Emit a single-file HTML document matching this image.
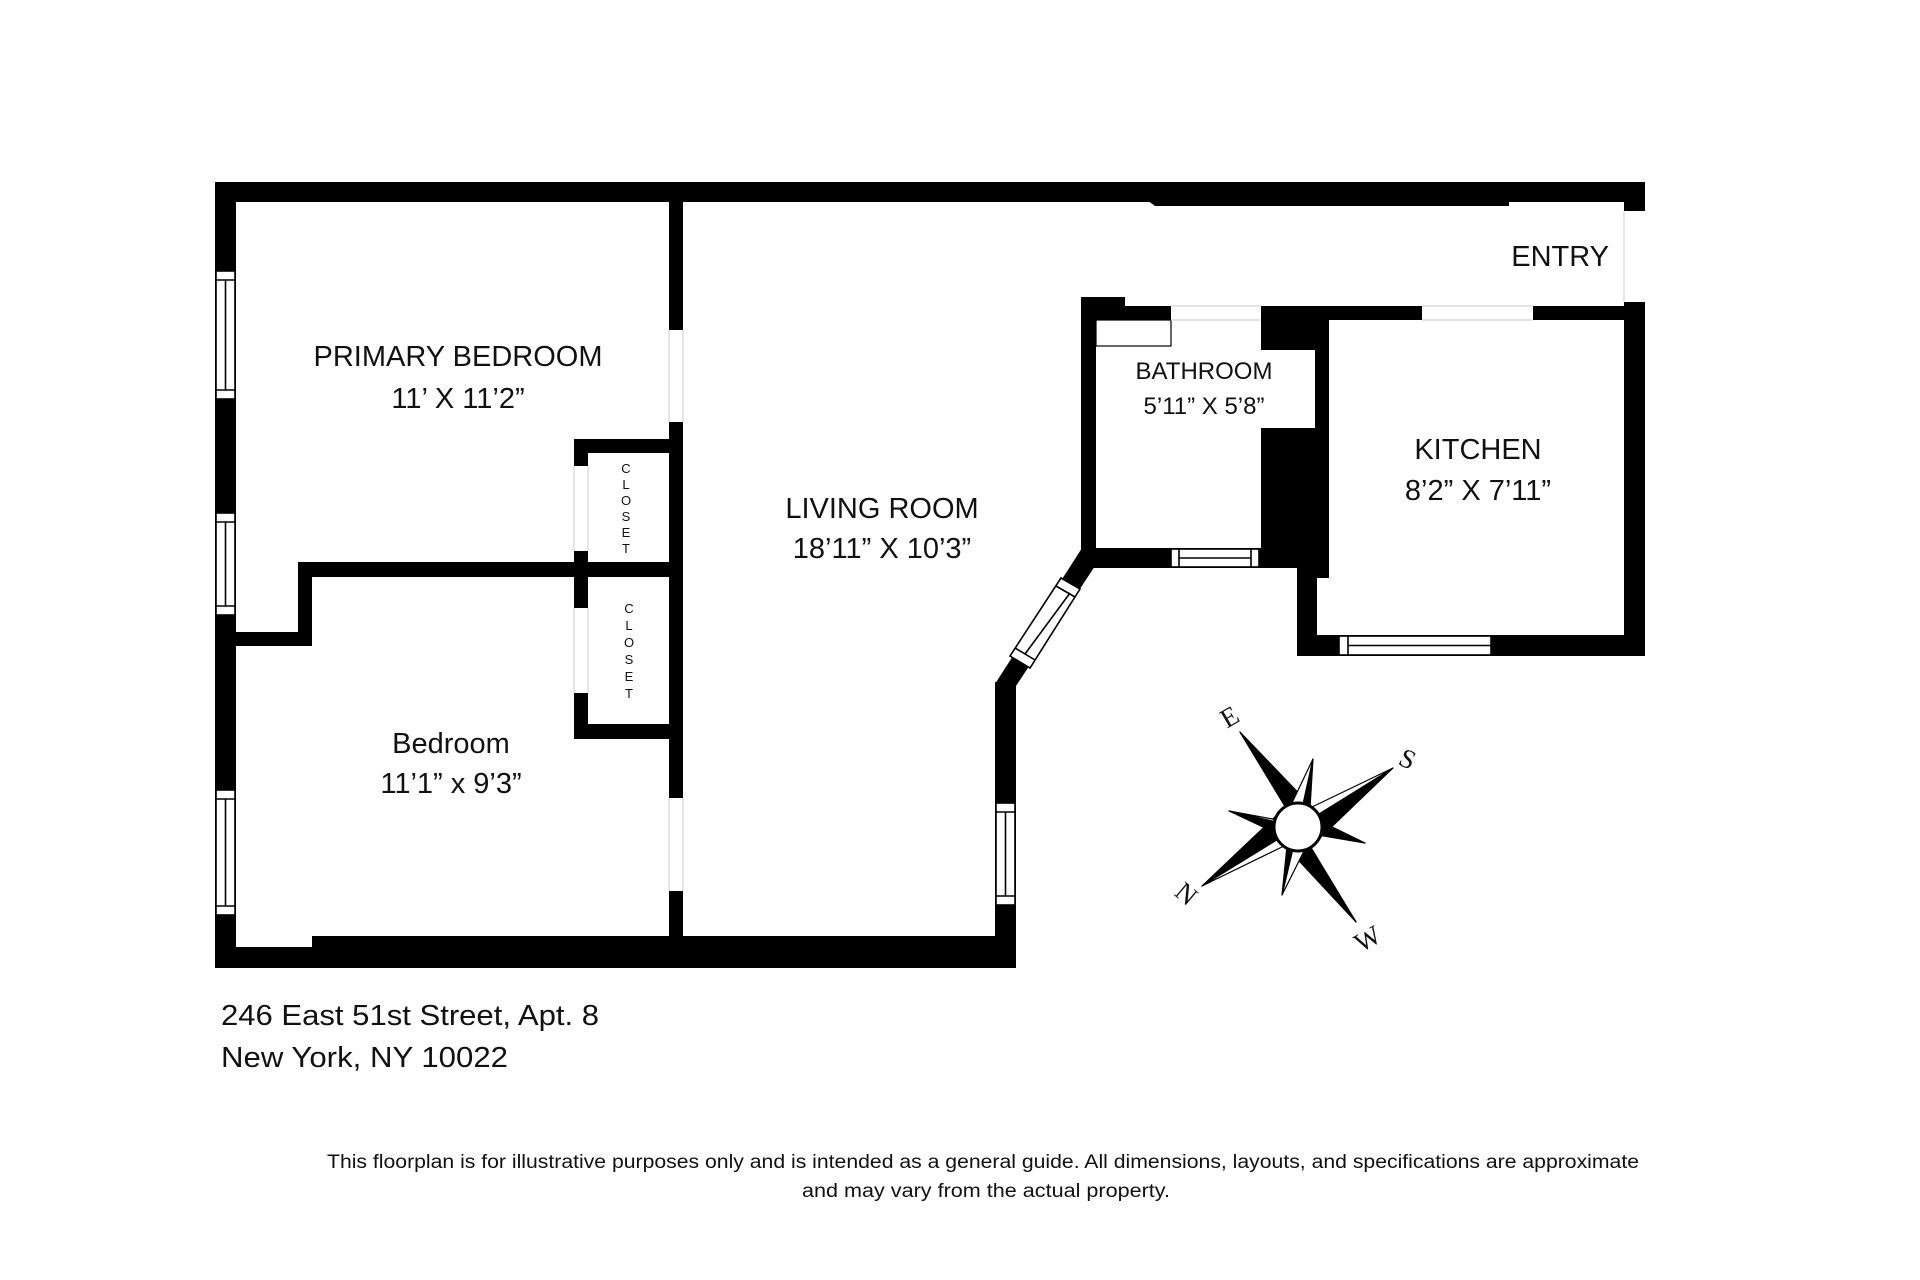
<!DOCTYPE html>
<html><head><meta charset="utf-8"><style>
html,body{margin:0;padding:0;background:#fff;width:1920px;height:1280px;overflow:hidden}
svg{display:block}
text{font-family:"Liberation Sans",sans-serif;fill:#111}
</style></head><body>
<svg width="1920" height="1280" viewBox="0 0 1920 1280" xmlns="http://www.w3.org/2000/svg">
<g fill="#000">
<rect x="215" y="182" width="1430" height="20"/>
<polygon points="1147,200 1155,206 1509,206 1509,200"/>
<rect x="1624" y="182" width="21" height="29"/>
<rect x="215" y="182" width="21" height="786"/>
<rect x="215" y="947" width="97" height="21"/>
<rect x="312" y="936" width="704" height="32"/>
<rect x="669" y="202" width="14" height="128"/>
<rect x="669" y="422" width="14" height="376"/>
<rect x="669" y="891" width="14" height="50"/>
<rect x="574" y="439" width="109" height="14"/>
<rect x="574" y="439" width="14" height="27"/>
<rect x="574" y="551" width="14" height="57"/>
<rect x="298" y="562" width="385" height="15"/>
<rect x="298" y="562" width="14" height="84"/>
<rect x="236" y="632" width="76" height="14"/>
<rect x="574" y="693" width="14" height="46"/>
<rect x="574" y="724" width="109" height="15"/>
<rect x="995" y="682" width="21" height="286"/>
<polygon points="1082,548 1095,566 1016,686 995,684"/>
<rect x="1081" y="297" width="15" height="260"/>
<rect x="1081" y="297" width="44" height="12"/>
<rect x="1081" y="306" width="90" height="14"/>
<rect x="1261" y="306" width="161" height="14"/>
<rect x="1533" y="306" width="112" height="14"/>
<rect x="1261" y="306" width="68" height="44"/>
<rect x="1315" y="350" width="14" height="78"/>
<rect x="1261" y="428" width="68" height="140"/>
<rect x="1081" y="548" width="216" height="20"/>
<rect x="1297" y="548" width="32" height="30"/>
<rect x="1297" y="548" width="20" height="108"/>
<rect x="1624" y="302" width="21" height="354"/>
<rect x="1297" y="635" width="348" height="21"/>
</g>
<g fill="#fff" stroke="#000" stroke-width="1.6">
<rect x="216" y="271" width="19" height="128"/><line x1="216" y1="280" x2="235" y2="280"/><line x1="216" y1="390" x2="235" y2="390"/><line x1="225.5" y1="280" x2="225.5" y2="390"/>
<rect x="216" y="513" width="19" height="102"/><line x1="216" y1="522" x2="235" y2="522"/><line x1="216" y1="606" x2="235" y2="606"/><line x1="225.5" y1="522" x2="225.5" y2="606"/>
<rect x="216" y="790" width="19" height="125"/><line x1="216" y1="799" x2="235" y2="799"/><line x1="216" y1="906" x2="235" y2="906"/><line x1="225.5" y1="799" x2="225.5" y2="906"/>
<rect x="996" y="803" width="19" height="102"/><line x1="996" y1="812" x2="1015" y2="812"/><line x1="996" y1="896" x2="1015" y2="896"/><line x1="1005.5" y1="812" x2="1005.5" y2="896"/>
<polygon points="1061,578 1080,589 1030,668 1010,656"/>
<line x1="1056" y1="586" x2="1075" y2="597"/><line x1="1015" y1="648" x2="1035" y2="660"/>
<line x1="1070" y1="593" x2="1025" y2="654"/>
<rect x="1171" y="549" width="88" height="18"/><line x1="1179" y1="549" x2="1179" y2="567"/><line x1="1251" y1="549" x2="1251" y2="567"/><line x1="1179" y1="558" x2="1251" y2="558"/>
<rect x="1339" y="636" width="152" height="19"/><line x1="1348" y1="636" x2="1348" y2="655"/><line x1="1348" y1="645.5" x2="1491" y2="645.5"/>
<rect x="1096" y="320" width="75" height="26" stroke-width="1.2"/>
</g>
<g stroke="#d4d4d4" stroke-width="1.2" fill="none">
<line x1="1171" y1="306" x2="1261" y2="306"/><line x1="1171" y1="320" x2="1261" y2="320"/>
<line x1="1422" y1="306" x2="1533" y2="306"/><line x1="1422" y1="320" x2="1533" y2="320"/>
<line x1="1624" y1="211" x2="1624" y2="302"/>
<line x1="669" y1="330" x2="669" y2="422"/><line x1="683" y1="330" x2="683" y2="422"/>
<line x1="669" y1="798" x2="669" y2="891"/><line x1="683" y1="798" x2="683" y2="891"/>
<line x1="574" y1="466" x2="574" y2="551"/><line x1="588" y1="466" x2="588" y2="551"/>
<line x1="574" y1="608" x2="574" y2="693"/><line x1="588" y1="608" x2="588" y2="693"/>
</g>
<g font-size="29" text-anchor="middle">
<text x="458" y="366">PRIMARY BEDROOM</text>
<text x="458" y="408">11’ X 11’2”</text>
<text x="451" y="753">Bedroom</text>
<text x="451" y="793">11’1” x 9’3”</text>
<text x="882" y="518">LIVING ROOM</text>
<text x="882" y="558">18’11” X 10’3”</text>
<text x="1478" y="459">KITCHEN</text>
<text x="1478" y="500">8’2” X 7’11”</text>
<text x="1609" y="266" text-anchor="end">ENTRY</text>
</g>
<g font-size="24" text-anchor="middle">
<text x="1204" y="379">BATHROOM</text>
<text x="1204" y="414">5’11” X 5’8”</text>
</g>
<g font-size="13" text-anchor="middle">
<text x="626" y="473">C</text><text x="626" y="489">L</text><text x="626" y="505">O</text><text x="626" y="521">S</text><text x="626" y="537">E</text><text x="626" y="553">T</text>
<text x="629" y="613">C</text><text x="629" y="630">L</text><text x="629" y="647">O</text><text x="629" y="664">S</text><text x="629" y="681">E</text><text x="629" y="698">T</text>
</g>
<g stroke="#000" stroke-width="1.2" stroke-linejoin="round">
<polygon points="1240,732 1298,827 1286,808" fill="#fff"/><polygon points="1240,732 1298,827 1310,805" fill="#000"/>
<polygon points="1393,768 1298,827 1318,840" fill="#000"/><polygon points="1393,768 1298,827 1312,807" fill="#fff"/>
<polygon points="1202,886 1298,827 1278,814" fill="#000"/><polygon points="1202,886 1298,827 1284,846" fill="#fff"/>
<polygon points="1356,922 1298,827 1288,849" fill="#000"/><polygon points="1356,922 1298,827 1310,846" fill="#fff"/>
<polygon points="1313,759 1298,827 1290,807" fill="#fff"/><polygon points="1313,759 1298,827 1310,808" fill="#000"/>
<polygon points="1365,843 1298,827 1318,820" fill="#000"/><polygon points="1365,843 1298,827 1318,835" fill="#000"/>
<polygon points="1282,895 1298,827 1306,847" fill="#fff"/><polygon points="1282,895 1298,827 1287,846" fill="#000"/>
<polygon points="1229,811 1298,827 1278,834" fill="#000"/><polygon points="1229,811 1298,827 1278,820" fill="#fff"/>
</g>
<circle cx="1298" cy="827" r="24" fill="#fff" stroke="#000" stroke-width="3"/>
<g font-size="27" text-anchor="middle">
<text x="1229" y="726" transform="rotate(-30 1229 716)" style="font-family:'Liberation Serif',serif">E</text>
<text x="1408" y="768" transform="rotate(25 1408 758)" style="font-family:'Liberation Serif',serif">S</text>
<text x="1187" y="903" transform="rotate(40 1187 893)" style="font-family:'Liberation Serif',serif">N</text>
<text x="1367" y="948" transform="rotate(-30 1367 938)" style="font-family:'Liberation Serif',serif">W</text>
</g>
<text x="221" y="1025" font-size="29" textLength="378" lengthAdjust="spacingAndGlyphs">246 East 51st Street, Apt. 8</text>
<text x="221" y="1067" font-size="29" textLength="287" lengthAdjust="spacingAndGlyphs">New York, NY 10022</text>
<text x="327" y="1168" font-size="19" textLength="1312" lengthAdjust="spacingAndGlyphs">This floorplan is for illustrative purposes only and is intended as a general guide. All dimensions, layouts, and specifications are approximate</text>
<text x="802" y="1197" font-size="19" textLength="368" lengthAdjust="spacingAndGlyphs">and may vary from the actual property.</text>
</svg>
</body></html>
